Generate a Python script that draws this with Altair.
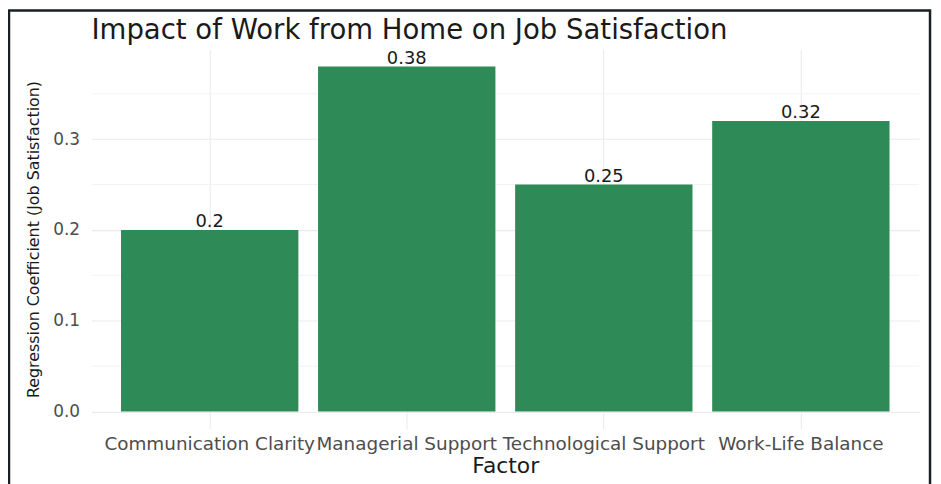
import altair as alt
import pandas as pd

factors = ["Communication Clarity", "Managerial Support", "Technological Support", "Work-Life Balance"]
coefficients = [0.20, 0.38, 0.25, 0.32]
coef_labels = ["0.2", "0.38", "0.25", "0.32"]
major_ticks = [0.0, 0.1, 0.2, 0.3]
minor_ticks = [0.05, 0.15, 0.25, 0.35]

df = pd.DataFrame({"Factor": factors, "Coef": coefficients, "Label": coef_labels})
minor_df = pd.DataFrame({"Coef": minor_ticks})

W, H = 833, 382
y_scale = alt.Scale(domain=[-0.019, 0.399], nice=False, zero=False)
x_scale = alt.Scale(paddingInner=0.1, paddingOuter=0.15)

y_axis = alt.Axis(
    title="Regression Coefficient (Job Satisfaction)",
    values=major_ticks,
    format=".1f",
    domain=False,
    ticks=False,
    grid=True,
    gridColor="#ebebeb",
    gridWidth=1.1,
    labelFont="DejaVu Sans",
    labelFontSize=17,
    labelColor="#4d4d4d",
    labelPadding=12,
    titleFont="DejaVu Sans",
    titleFontSize=16,
    titleFontWeight="normal",
    titleColor="#1a1a1a",
    titleX=-58,
    titleBaseline="middle",
)

x_enc = alt.X(
    "Factor:N",
    sort=factors,
    scale=x_scale,
    axis=alt.Axis(
        title="Factor",
        domain=False,
        ticks=False,
        grid=True,
        gridColor="#ebebeb",
        gridWidth=1.1,
        bandPosition=0.5,
        labelAngle=0,
        labelFont="DejaVu Sans",
        labelFontSize=18.5,
        labelColor="#4d4d4d",
        labelPadding=6,
        labelLimit=500,
        labelOverlap=False,
        titleFont="DejaVu Sans",
        titleFontSize=22,
        titleFontWeight="normal",
        titleColor="#1a1a1a",
        titleY=44,
        titleBaseline="alphabetic",
    ),
)

minor = alt.Chart(minor_df).mark_rule(color="#f2f2f2", strokeWidth=1).encode(
    y=alt.Y("Coef:Q", scale=y_scale, axis=y_axis)
)

bars = alt.Chart(df).mark_bar(color="#2e8b57").encode(
    x=x_enc,
    y=alt.Y("Coef:Q", scale=y_scale, axis=y_axis),
    y2=alt.datum(0),
)

text = alt.Chart(df).mark_text(
    font="DejaVu Sans", fontSize=18, color="#1a1a1a", baseline="alphabetic", dy=-3
).encode(
    x=alt.X("Factor:N", sort=factors, scale=x_scale),
    y=alt.Y("Coef:Q", scale=y_scale, axis=y_axis),
    text="Label:N",
)

border = alt.Chart(pd.DataFrame({"b": [0]})).mark_rect(
    filled=False, stroke="#1a1f24", strokeWidth=2.5
).encode(
    x=alt.value(-83), x2=alt.value(844), y=alt.value(-39), y2=alt.value(460)
)

chart = alt.layer(minor, bars, text, border).properties(
    width=W,
    height=H,
    title=alt.TitleParams(
        "Impact of Work from Home on Job Satisfaction",
        anchor="start",
        frame="group",
        font="DejaVu Sans",
        fontSize=27.7,
        fontWeight="normal",
        color="#1a1a1a",
        baseline="alphabetic",
        offset=-58,
    ),
    autosize=alt.AutoSizeParams(type="none"),
    padding={"left": 84, "top": 40, "right": 14, "bottom": 54},
    background="white",
).configure_view(stroke=None)

chart.save("out.html", embed_options={"renderer": "svg", "actions": False})
